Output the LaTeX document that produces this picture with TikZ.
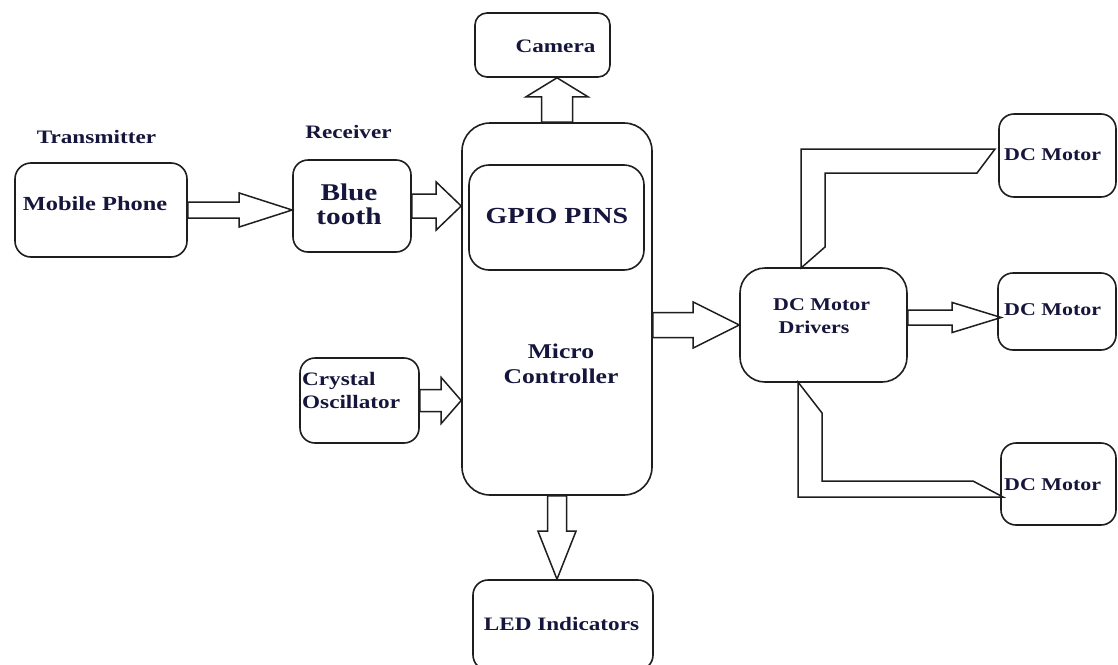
\documentclass[tikz,border=0pt]{standalone}
\usepackage{fontspec}
\newfontfamily\labfont{Liberation Serif}[FakeStretch=1.22]
\usetikzlibrary{calc}
\definecolor{ink}{RGB}{30,30,30}
\definecolor{txt}{RGB}{22,22,60}
\newcommand\blockarrow[5]{%
  \draw[arr] (#1) coordinate (ba-s) (#2) coordinate (ba-t)
    ($(ba-t)!#5!(ba-s)$) coordinate (ba-c)
    ($(ba-s)!#3!90:(ba-t)$) -- ($(ba-c)!#3!90:(ba-t)$) -- ($(ba-c)!#4!90:(ba-t)$)
    -- (ba-t) -- ($(ba-c)!#4!-90:(ba-t)$) -- ($(ba-c)!#3!-90:(ba-t)$)
    -- ($(ba-s)!#3!-90:(ba-t)$) -- cycle;}
\begin{document}
\begin{tikzpicture}[x=1pt,y=-1pt,
  box/.style={draw=ink, line width=1.6pt, rectangle, inner sep=0pt},
  arr/.style={draw=ink, line width=1.5pt, line join=miter},
  lab/.style 2 args={font=\labfont\bfseries\fontsize{#1}{#2}\selectfont, text=txt, inner sep=0pt}]
\useasboundingbox[fill=white] (0,0) rectangle (1118,664);

% boxes
\node[box, rounded corners=12pt, minimum width=135pt, minimum height=64pt] (cam) at (542.5,45) {};
\node[box, rounded corners=28pt, minimum width=190pt, minimum height=372pt] (mc) at (557,309) {};
\node[box, rounded corners=20pt, minimum width=175pt, minimum height=105pt] (gpio) at (556.5,217.5) {};
\node[box, rounded corners=16pt, minimum width=172pt, minimum height=94pt] (mob) at (101,210) {};
\node[box, rounded corners=15pt, minimum width=118pt, minimum height=92pt] (bt) at (352,206) {};
\node[box, rounded corners=15pt, minimum width=119pt, minimum height=85pt] (xo) at (359.5,400.5) {};
\node[box, rounded corners=15pt, minimum width=180pt, minimum height=90pt] (led) at (563,625) {};
\node[box, rounded corners=25pt, minimum width=167pt, minimum height=114pt] (drv) at (823.5,325) {};
\node[box, rounded corners=15pt, minimum width=117pt, minimum height=83pt] (m1) at (1057.5,155.5) {};
\node[box, rounded corners=15pt, minimum width=118pt, minimum height=77pt] (m2) at (1057,311.5) {};
\node[box, rounded corners=15pt, minimum width=115pt, minimum height=82pt] (m3) at (1058.5,484) {};

% texts
\node[lab={19}{23}, anchor=base] (ttx) at (96.5,143) {Transmitter};
\node[lab={19}{23}, anchor=base] (trx) at (348.5,138) {Receiver};
\node[lab={20}{24}, anchor=base] (tmob) at (95,210.5) {Mobile Phone};
\node[lab={24}{24}, anchor=base, align=center] (tbt) at (349,224) {Blue\\tooth};
\node[lab={19}{23}, anchor=base west, align=left] (txo) at (302,408) {Crystal\\Oscillator};
\node[lab={23}{25}, anchor=base] (tgpio) at (557,223) {GPIO PINS};
\node[lab={21}{25}, anchor=base, align=center] (tmc) at (561,383) {Micro\\Controller};
\node[lab={19}{23}, anchor=base] (tcam) at (555.5,52) {Camera};
\node[lab={19}{23}, anchor=base] (tled) at (561.5,630) {LED Indicators};
\node[lab={18}{23}, anchor=base west, align=left] (tdrv) at (773,333) {DC Motor\\\ Drivers};
\node[lab={18}{22}, anchor=base west] (tm1) at (1004,160) {DC Motor};
\node[lab={18}{22}, anchor=base west] (tm2) at (1004,315) {DC Motor};
\node[lab={18}{22}, anchor=base west] (tm3) at (1004,490) {DC Motor};

% block arrows
\blockarrow{mob.east}{bt.west |- mob.east}{8pt}{17pt}{53pt}
\blockarrow{bt.east}{mc.west |- bt.east}{12pt}{24pt}{25pt}
\blockarrow{xo.east}{mc.west |- xo.east}{11pt}{23pt}{20pt}
\blockarrow{mc.north}{mc.north |- cam.south}{15.5pt}{31pt}{19pt}
\blockarrow{mc.south}{mc.south |- led.north}{9.5pt}{19pt}{48pt}
\blockarrow{mc.east |- drv.west}{drv.west}{12.5pt}{23pt}{46pt}
\coordinate (m2tip) at ($(m2.west)+(4,6)$);
\blockarrow{drv.east |- m2tip}{m2tip}{7.5pt}{15pt}{49pt}

% bent arrows
\draw[arr] (801,268) -- (801,149) -- (995,149) -- (977,173) -- (825,173) -- (825,247) -- cycle;
\draw[arr] (798,382) -- (798,497) -- (1003,497) -- (973,481) -- (822,481) -- (822,413) -- cycle;
\end{tikzpicture}
\end{document}
